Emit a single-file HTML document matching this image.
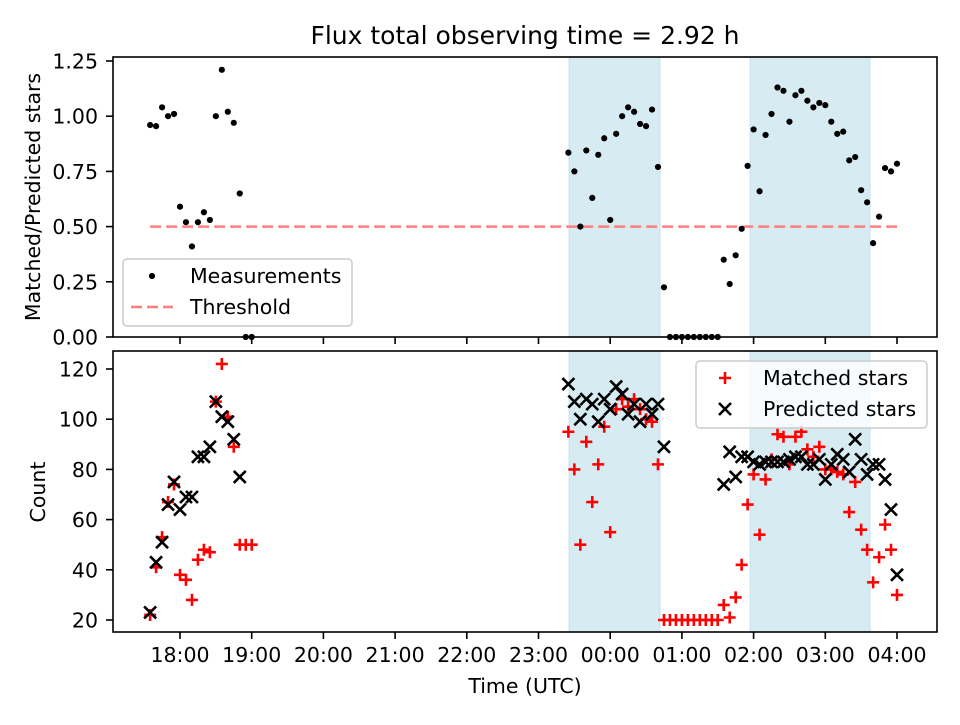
<!DOCTYPE html>
<html><head><meta charset="utf-8"><style>
body{margin:0;background:#fff}
svg text{font-family:"DejaVu Sans","Liberation Sans",sans-serif;fill:#000}
</style></head><body>
<svg id="c" width="960" height="720" xmlns="http://www.w3.org/2000/svg"></svg>
<script>
// minutes since 18:00 UTC
const times = [-25,-20,-15,-10,-5,0,5,10,15,20,25,30,35,40,45,50,55,60,
 325,330,335,340,345,350,355,360,365,370,375,380,385,390,395,400,405,
 410,415,420,425,430,435,440,445,450,
 455,460,465,470,475,480,485,490,495,500,505,510,515,520,525,530,535,540,545,550,555,560,565,570,575,580,585,590,595,600];
const ratio = [0.96,0.955,1.04,1.0,1.01,0.59,0.52,0.41,0.52,0.565,0.53,1.0,1.21,1.02,0.97,0.65,0,0,
 0.835,0.75,0.50,0.845,0.63,0.825,0.90,0.53,0.92,1.0,1.04,1.02,0.965,0.955,1.03,0.77,0.225,
 0,0,0,0,0,0,0,0,0,
 0.35,0.24,0.37,0.49,0.775,0.94,0.66,0.915,1.01,1.13,1.115,0.975,1.095,1.115,1.07,1.04,1.06,1.05,0.975,0.92,0.93,0.80,0.815,0.665,0.61,0.425,0.545,0.765,0.75,0.785];
const matched = [22,41,53,67,74,38,36,28,44,48,47,107,122,101,89,50,50,50,
 95,80,50,91,67,82,97,55,104,108,105,108,104,100,99,82,20,
 20,20,20,20,20,20,20,20,20,
 26,21,29,42,66,78,54,76,84,94,93,82,93,95,88,85,89,80,80,79,78,63,75,56,48,35,45,58,48,30];
const predicted = [23,43,51,66,75,64,69,69,85,85,89,107,101,99,92,77,null,null,
 114,107,100,108,106,99,108,104,113,110,102,106,99,106,102,106,89,
 null,null,null,null,null,null,null,null,null,
 74,87,77,85,85,83,82,83,83,83,83,84,85,85,82,82,84,76,82,86,84,79,92,84,78,82,82,76,64,38];
const spans = [[325.5,401.7],[477,577.5]];
const threshold = 0.5;
const xTicks = ["18:00","19:00","20:00","21:00","22:00","23:00","00:00","01:00","02:00","03:00","04:00"];
const topTicks = [0,0.25,0.5,0.75,1.0,1.25];
const botTicks = [20,40,60,80,100,120];

const NS="http://www.w3.org/2000/svg", svg=document.getElementById('c');
function el(tag,attrs,parent){const e=document.createElementNS(NS,tag);for(const k in attrs)e.setAttribute(k,attrs[k]);(parent||svg).appendChild(e);return e;}
const L=113,R=937,FS=20.5;
const xs=m=>180+m*71.7/60;
const yTop=v=>337-v*220.8;
const yBot=v=>620-(v-20)*2.51;

let t=el('text',{x:525,y:44,'text-anchor':'middle','font-size':25});t.textContent='Flux total observing time = 2.92 h';



function panel(y0,y1,name){
  const g=el('g',{});
  
  
  spans.forEach(s=>{
    const r=el('rect',{x:xs(s[0]),y:y0,width:xs(s[1])-xs(s[0]),height:y1-y0,fill:'#add8e6','fill-opacity':0.5,stroke:'#add8e6','stroke-opacity':0.6},g);
    
    
  });
  return g;
}
function frame(y0,y1,g){el('rect',{x:L,y:y0,width:R-L,height:y1-y0,fill:'none',stroke:'#000','stroke-width':1.6},g);}
function xAxis(y1,labels,g){
  xTicks.forEach((lab,i)=>{
    const x=xs(i*60);
    el('line',{x1:x,x2:x,y1:y1,y2:y1+7,stroke:'#000','stroke-width':1.6},g);
    if(labels){const tt=el('text',{x:x,y:y1+30,'text-anchor':'middle','font-size':FS},g);tt.textContent=lab;
      
      }
  });
}

// top panel
const gt=panel(57,337,'ratio-panel');
const thr=el('line',{x1:xs(times[0]),x2:xs(times[times.length-1]),y1:yTop(threshold),y2:yTop(threshold),stroke:'#ff7f7f','stroke-width':2.5,'stroke-dasharray':'11,5'},gt);


times.forEach((m,i)=>{
  const c=el('circle',{cx:xs(m),cy:yTop(ratio[i]),r:3.1,fill:'#000'},gt);
  
  
});
frame(57,337,gt);
topTicks.forEach(v=>{
  const y=yTop(v);el('line',{x1:L-7,x2:L,y1:y,y2:y,stroke:'#000','stroke-width':1.6},gt);
  const tt=el('text',{x:L-15,y:y+7.5,'text-anchor':'end','font-size':FS},gt);tt.textContent=v.toFixed(2);
  
  
});
xAxis(337,false,gt);
let yl=el('text',{transform:'translate(40,197) rotate(-90)','text-anchor':'middle','font-size':FS},gt);yl.textContent='Matched/Predicted stars';


const lg=el('g',{},gt);


el('rect',{x:123,y:259,width:229,height:67,rx:4,fill:'#fff','fill-opacity':0.8,stroke:'#ccc','stroke-width':1.5},lg);
el('circle',{cx:152,cy:276,r:3.1,fill:'#000'},lg);
let lt=el('text',{x:190,y:283,'font-size':FS},lg);lt.textContent='Measurements';
el('line',{x1:131,x2:173,y1:307,y2:307,stroke:'#ff7f7f','stroke-width':2.5,'stroke-dasharray':'11,5'},lg);
lt=el('text',{x:190,y:314,'font-size':FS},lg);lt.textContent='Threshold';

// bottom panel
const gb=panel(351,632,'count-panel');
function plus(x,y,g){return el('path',{d:`M${x-6},${y}H${x+6}M${x},${y-6}V${y+6}`,stroke:'#f00','stroke-width':2.6},g);}
function cross(x,y,g){return el('path',{d:`M${x-6},${y-6}L${x+6},${y+6}M${x-6},${y+6}L${x+6},${y-6}`,stroke:'#000','stroke-width':2.6},g);}
times.forEach((m,i)=>{
  const p=plus(xs(m),yBot(matched[i]),gb);
  
  
});
times.forEach((m,i)=>{
  if(predicted[i]==null)return;
  const p=cross(xs(m),yBot(predicted[i]),gb);
  
  
});
frame(351,632,gb);
botTicks.forEach(v=>{
  const y=yBot(v);el('line',{x1:L-7,x2:L,y1:y,y2:y,stroke:'#000','stroke-width':1.6},gb);
  const tt=el('text',{x:L-15,y:y+7.5,'text-anchor':'end','font-size':FS},gb);tt.textContent=v;
  
  
});
xAxis(632,true,gb);
yl=el('text',{transform:'translate(45,492) rotate(-90)','text-anchor':'middle','font-size':FS},gb);yl.textContent='Count';


let xl=el('text',{x:525,y:693,'text-anchor':'middle','font-size':FS},gb);xl.textContent='Time (UTC)';


const lg2=el('g',{},gb);


el('rect',{x:696,y:361,width:231,height:67,rx:4,fill:'#fff','fill-opacity':0.8,stroke:'#ccc','stroke-width':1.5},lg2);
plus(725,378,lg2);
lt=el('text',{x:763,y:385,'font-size':FS},lg2);lt.textContent='Matched stars';
cross(725,409,lg2);
lt=el('text',{x:763,y:416,'font-size':FS},lg2);lt.textContent='Predicted stars';
</script>
</body></html>
